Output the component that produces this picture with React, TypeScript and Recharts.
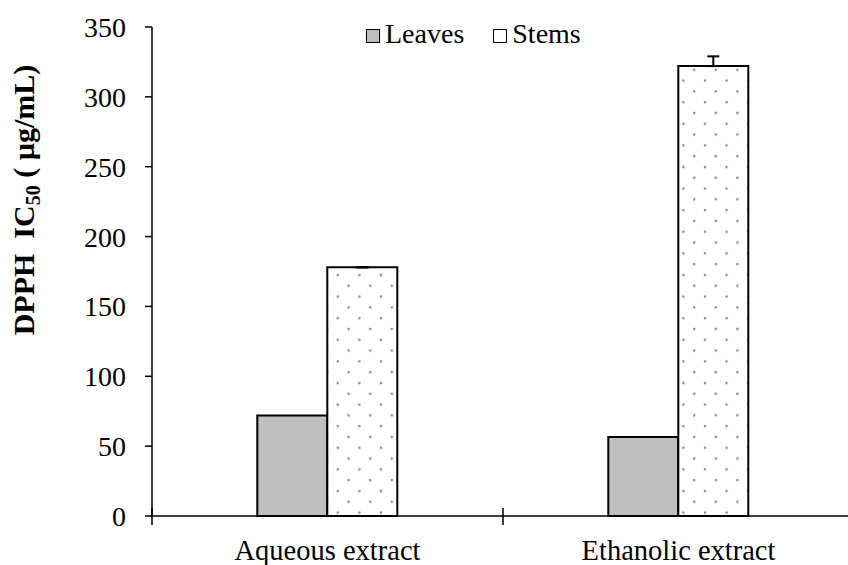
import { BarChart, Bar, XAxis, YAxis, ErrorBar, Legend } from "recharts";

const categories = ["Aqueous extract", "Ethanolic extract"];
const leaves = [72, 56.5];
const stems = [178, 322];
const stemsErr: [number, number][] = [[0, 0], [0, 7]];
const yTicks = [0, 50, 100, 150, 200, 250, 300, 350];

const FONT = '"Liberation Serif", "Times New Roman", serif';

const data = categories.map((name, i) => ({
  name,
  leaves: leaves[i],
  stems: stems[i],
  stemsErr: stemsErr[i],
}));

const CategoryTick = (props: any) => {
  const { x, y, payload } = props;
  const half = payload && payload.offset ? payload.offset : 175.5;
  return (
    <g>
      <line x1={x - half} x2={x - half} y1={y - 8} y2={y + 9} stroke="#000" strokeWidth={1.5} />
      <text x={x} y={y + 44} textAnchor="middle" fontSize={28.5} fontFamily={FONT} fill="#000">
        {payload.value}
      </text>
    </g>
  );
};

const YLabel = () => (
  <text
    x={34}
    y={200}
    transform="rotate(-90, 34, 200)"
    textAnchor="middle"
    fontSize={30}
    fontWeight="bold"
    fontFamily={FONT}
    fill="#000"
  >
    <tspan>{"DPPH\u00a0\u00a0IC"}</tspan>
    <tspan fontSize={20} dy={6}>50</tspan>
    <tspan dy={-6}>{"\u00a0( µg/mL)"}</tspan>
  </text>
);

const LegendBox = () => (
  <div style={{ fontFamily: FONT, fontSize: 28, lineHeight: "28px", whiteSpace: "nowrap", color: "#000" }}>
    {[
      { label: "Leaves", fill: "#bfbfbf" },
      { label: "Stems", fill: "#fff" },
    ].map((it, i) => (
      <span key={it.label} style={{ marginLeft: i === 0 ? 0 : 29 }}>
        <span
          style={{
            display: "inline-block",
            width: 12,
            height: 12,
            border: "1.5px solid #000",
            background: it.fill,
            marginRight: 5,
          }}
        />
        {it.label}
      </span>
    ))}
  </div>
);

export default function App() {
  return (
    <div style={{ position: "absolute", left: 0, top: 0, width: 848, height: 565, overflow: "hidden", background: "#fff" }}>
      <BarChart
        width={860}
        height={565}
        data={data}
        margin={{ top: 27, right: 6, left: 0, bottom: 0 }}
        barCategoryGap="30%"
        barGap={0}
      >
        <defs>
          <pattern id="dots" width={21.6} height={21.6} patternUnits="userSpaceOnUse">
            <rect width={21.6} height={21.6} fill="#fff" />
            <circle cx={3} cy={5} r={1.3} fill="#8c8c8c" />
            <circle cx={13.8} cy={15.8} r={1.3} fill="#8c8c8c" />
          </pattern>
        </defs>
        <XAxis
          dataKey="name"
          height={49}
          tickLine={false}
          tickSize={0}
          tickMargin={0}
          axisLine={{ stroke: "#000", strokeWidth: 1.5 }}
          tick={<CategoryTick />}
          interval={0}
        />
        <YAxis
          width={152}
          domain={[0, 350]}
          ticks={yTicks}
          interval={0}
          tickSize={7}
          tickMargin={19}
          axisLine={{ stroke: "#000", strokeWidth: 1.5 }}
          tickLine={{ stroke: "#000", strokeWidth: 1.5 }}
          tick={{ fontSize: 28, fontFamily: FONT, fill: "#000" }}
          label={<YLabel />}
        />
        <Legend
          layout="horizontal"
          verticalAlign="middle"
          align="center"
          wrapperStyle={{ top: 20, left: 366, width: 300 }}
          content={<LegendBox />}
        />
        <Bar dataKey="leaves" name="Leaves" fill="#bfbfbf" stroke="#000" strokeWidth={2} isAnimationActive={false} />
        <Bar dataKey="stems" name="Stems" fill="url(#dots)" stroke="#000" strokeWidth={2} isAnimationActive={false}>
          <ErrorBar dataKey="stemsErr" direction="y" width={6} stroke="#000" strokeWidth={2} />
        </Bar>
      </BarChart>
    </div>
  );
}
